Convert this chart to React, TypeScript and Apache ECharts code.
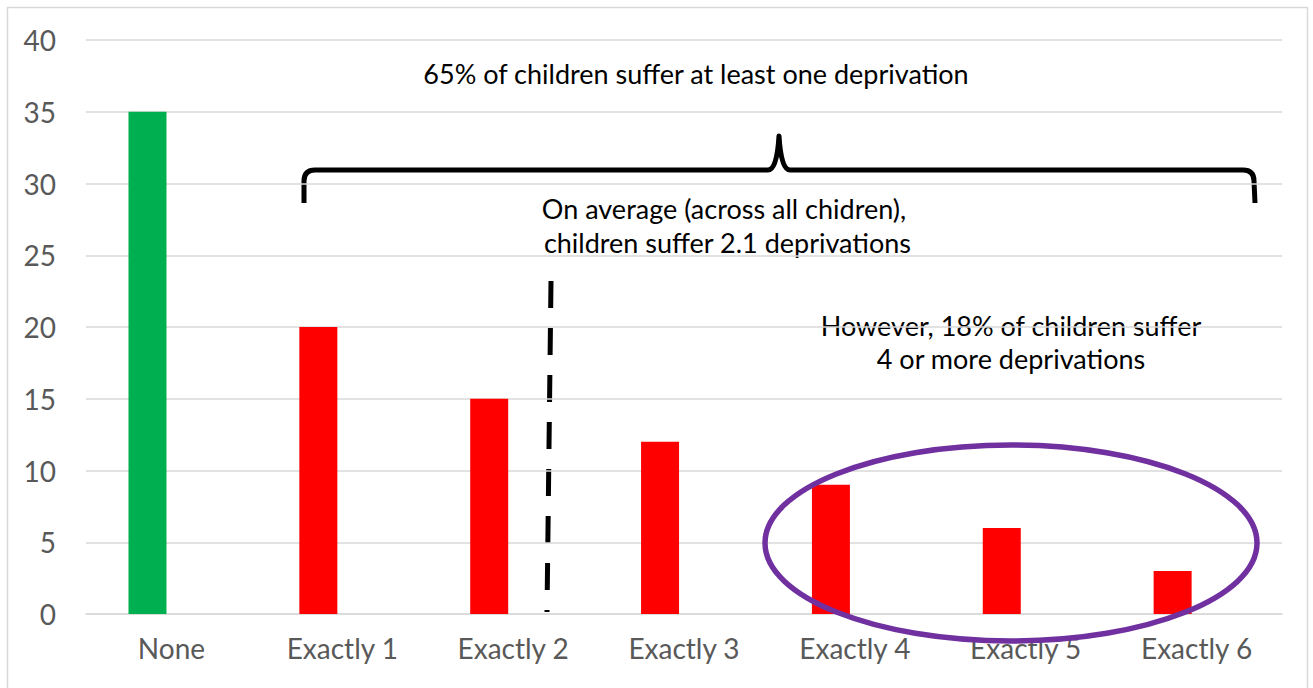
import React, { useEffect, useRef } from "react";
import * as echarts from "echarts";

const categories = ["None", "Exactly 1", "Exactly 2", "Exactly 3", "Exactly 4", "Exactly 5", "Exactly 6"];
const shareValues = [35, 20, 15, 12, 9, 6, 3];
const barColors = ["#00B050", "#FF0000", "#FF0000", "#FF0000", "#FF0000", "#FF0000", "#FF0000"];
const emptySeries = [null, null, null, null, null, null, null];
const yTicks = { min: 0, max: 40, interval: 5 };

const titleText = "65% of children suffer at least one deprivation";
const avgText = "On average (across all chidren),\n children suffer 2.1 deprivations";
const highText = "However, 18% of children suffer\n4 or more deprivations";

const FONT = "Lato, 'Open Sans', sans-serif";

const bracePath =
  "M 304 203 L 304 181 Q 304 170 315 170 L 768 170 Q 777 170 779 136 Q 781 170 790 170 L 1243 170 Q 1254 170 1254 181 L 1255 203";

export default function App() {
  const ref = useRef<HTMLDivElement>(null);

  useEffect(() => {
    if (!ref.current) return;
    echarts.graphic.registerShape("brace", echarts.graphic.extendPath(bracePath, {}));
    const chart = echarts.init(ref.current, undefined, { renderer: "svg" });
    chart.setOption({
      animation: false,
      backgroundColor: "#ffffff",
      grid: { left: 86, right: 31, top: 40, bottom: 74, containLabel: false },
      xAxis: {
        type: "category",
        data: categories,
        axisTick: { show: false },
        axisLine: { lineStyle: { color: "#d9d9d9", width: 1.5 } },
        axisLabel: { color: "#595959", fontFamily: FONT, fontSize: 28, margin: 20 },
      },
      yAxis: {
        type: "value",
        min: yTicks.min,
        max: yTicks.max,
        interval: yTicks.interval,
        axisLine: { show: false },
        axisTick: { show: false },
        splitLine: { lineStyle: { color: "#d9d9d9", width: 1.5 } },
        axisLabel: { color: "#595959", fontFamily: FONT, fontSize: 28, margin: 30 },
      },
      series: [
        {
          type: "bar",
          barWidth: 38,
          barGap: "26%",
          data: shareValues.map((v, i) => ({ value: v, itemStyle: { color: barColors[i] } })),
        },
        {
          type: "bar",
          barWidth: 38,
          data: emptySeries,
        },
      ],
      graphic: [
        {
          type: "rect",
          shape: { x: 7.5, y: 7.5, width: 1300, height: 700 },
          style: { fill: "none", stroke: "#d9d9d9", lineWidth: 1.5 },
          silent: true,
        },
        {
          type: "text",
          x: 696,
          y: 73,
          style: { text: titleText, font: `27px ${FONT}`, fill: "#000", align: "center", verticalAlign: "middle" },
        },
        {
          type: "brace",
          x: 0,
          y: 0,
          style: { fill: "none", stroke: "#000", lineWidth: 5, lineJoin: "round" },
        },
        {
          type: "text",
          x: 724,
          y: 225,
          style: {
            text: avgText,
            font: `27px ${FONT}`,
            fill: "#000",
            align: "center",
            verticalAlign: "middle",
            lineHeight: 34,
          },
        },
        {
          type: "line",
          shape: { x1: 551, y1: 281, x2: 547, y2: 612 },
          style: { stroke: "#000", lineWidth: 5, lineDash: [27, 20] },
        },
        {
          type: "text",
          x: 1011,
          y: 342,
          style: {
            text: highText,
            font: `27px ${FONT}`,
            fill: "#000",
            align: "center",
            verticalAlign: "middle",
            lineHeight: 33,
          },
        },
        {
          type: "ellipse",
          shape: { cx: 1011, cy: 543, rx: 246, ry: 98 },
          style: { fill: "none", stroke: "#7030A0", lineWidth: 5.5 },
          z: 100,
        },
      ],
    });
    return () => chart.dispose();
  }, []);

  return (
    <div
      ref={ref}
      style={{ position: "fixed", left: 0, top: 0, width: 1313, height: 688 }}
    />
  );
}
